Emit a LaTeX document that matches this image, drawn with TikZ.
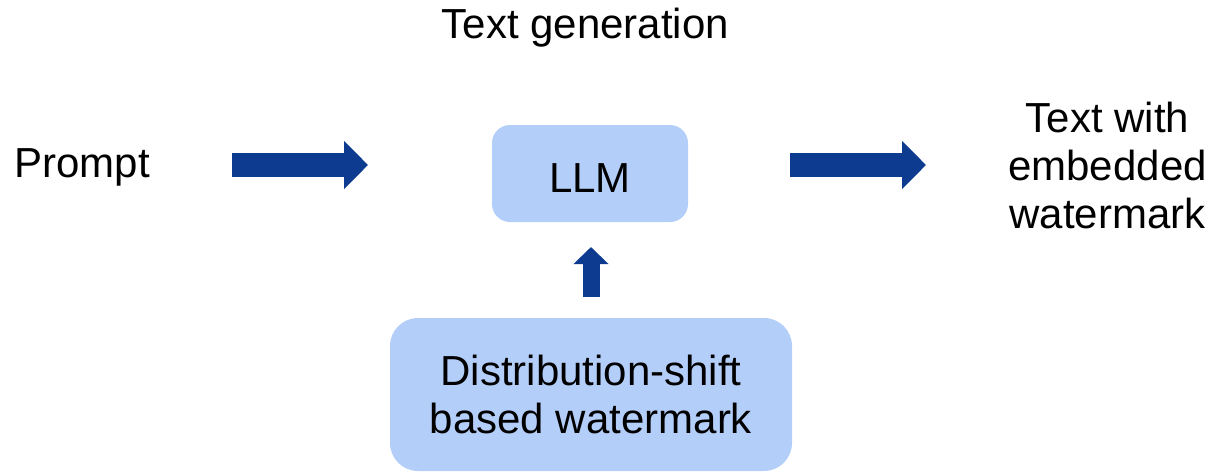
\documentclass[tikz,border=0pt]{standalone}
\usepackage{fontspec}
\setmainfont{Liberation Sans}
\usetikzlibrary{arrows.meta}
\definecolor{boxfill}{RGB}{180,206,250}
\definecolor{arrowblue}{RGB}{13,59,143}
\tikzset{
  lbl/.style={inner sep=0pt, font=\fontsize{42}{48}\selectfont, align=center},
  panel/.style={lbl, fill=boxfill, draw=none},
  bigarrow/.style={draw=arrowblue, line width=24pt,
    -{Triangle[length=24pt,width=47pt]}},
  smallarrow/.style={draw=arrowblue, line width=17pt,
    -{Triangle[length=17pt,width=34pt]}}
}
\begin{document}
\begin{tikzpicture}[x=1pt,y=-1pt]
  \useasboundingbox (0,0) rectangle (1213,472);

  % labels
  \node[lbl, anchor=base] (title) at (585.5,38) {Text generation};
  \node[lbl, anchor=base] (prompt) at (82,177) {Prompt};
  \node[lbl, anchor=north] (output) at (1107.5,101.5) {Text with\\embedded\\watermark};

  % boxes
  \node[panel, rounded corners=18pt, minimum width=196pt, minimum height=97pt,
        text height=37pt, text depth=0pt] (llm) at (590,173.5) {LLM};
  \node[panel, rounded corners=28pt, minimum width=402pt, minimum height=153pt]
        (wm) at (591,394.5) {Distribution-shift\\based watermark};

  % arrow ends
  \coordinate (inS) at (232,165);
  \coordinate (inE) at (368,165);
  \coordinate (outS) at (790,165);
  \coordinate (outE) at (926,165);
  \coordinate (upS) at (591,297);
  \coordinate (upE) at (591,247);

  % block arrows
  \draw[bigarrow] (inS) -- (inE);
  \draw[bigarrow] (outS) -- (outE);
  \draw[smallarrow] (upS) -- (upE);
\end{tikzpicture}
\end{document}
